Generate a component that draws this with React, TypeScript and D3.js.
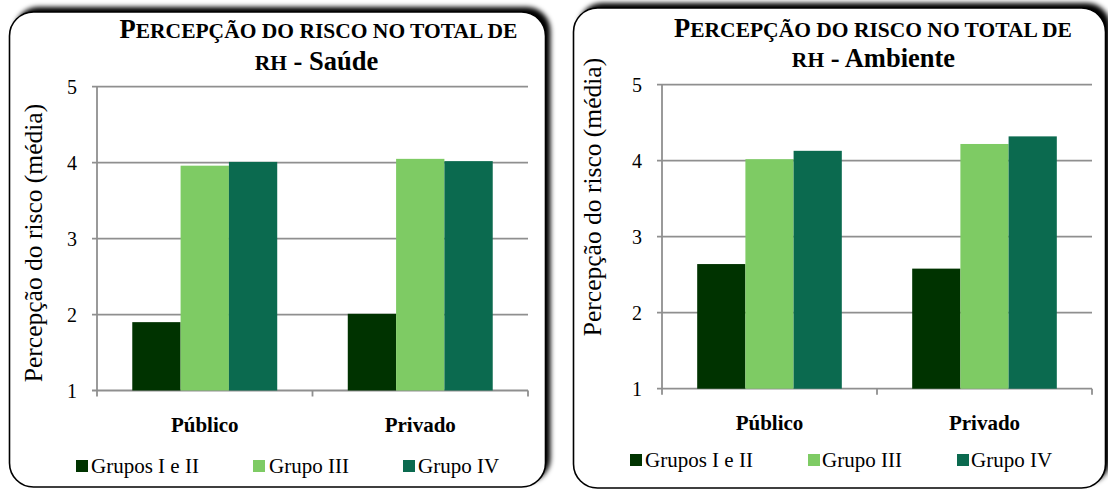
import React from "react";
import * as d3 from "d3";

const categories = ["Público", "Privado"];
const seriesNames = ["Grupos I e II", "Grupo III", "Grupo IV"];
const seriesColors = ["#003300", "#7ecb64", "#0b6a4f"];
const yTicks = [1, 2, 3, 4, 5];

const saudeGruposIeII = [1.9, 2.01];
const saudeGrupoIII = [3.96, 4.05];
const saudeGrupoIV = [4.01, 4.02];

const ambienteGruposIeII = [2.64, 2.58];
const ambienteGrupoIII = [4.02, 4.22];
const ambienteGrupoIV = [4.13, 4.32];

const axisTitle = "Percepção do risco (média)";
const titleLine1Big = "P";
const titleLine1Small = "ERCEPÇÃO DO RISCO NO TOTAL DE";
const titleLine2Small = "RH";

const FONT = "'Liberation Serif', 'Times New Roman', serif";
const GRID = "#8f8f8f";

type Geo = {
  box: [number, number, number, number];
  plot: [number, number, number, number]; // left, top, right, bottom
  titleCx: number;
  title2Cx: number;
  titleY1: number;
  titleY2: number;
  axisTitleX: number;
  axisTitleCy: number;
  catY: number;
  legendSq: number[];
  legendTx: number[];
  legendY: number;
};

function Panel({ geo, subtitle, values }: { geo: Geo; subtitle: string; values: number[][] }) {
  const [pl, pt, pr, pb] = geo.plot;
  const y = d3.scaleLinear().domain([1, 5]).range([pb, pt]);
  const x0 = d3.scaleBand<string>().domain(categories).range([pl, pr]).paddingInner(0).paddingOuter(0);
  const x1 = d3.scaleBand<string>().domain(seriesNames).range([0, x0.bandwidth()]).paddingInner(0).paddingOuter(0.73);
  const [bx, by, bw, bh] = geo.box;
  return (
    <g>
      <rect x={bx} y={by} width={bw} height={bh} rx={24} ry={24} fill="#000" filter="url(#shadow)" />
      <rect x={bx} y={by} width={bw} height={bh} rx={24} ry={24} fill="#fff" stroke="#000" strokeWidth={1.6} />
      <text x={geo.titleCx} y={geo.titleY1} textAnchor="middle" fontFamily={FONT} fontWeight="bold">
        <tspan fontSize={26.5}>{titleLine1Big}</tspan>
        <tspan fontSize={21.5}>{titleLine1Small}</tspan>
      </text>
      <text x={geo.title2Cx} y={geo.titleY2} textAnchor="middle" fontFamily={FONT} fontWeight="bold">
        <tspan fontSize={21.5}>{titleLine2Small}</tspan>
        <tspan fontSize={26.5}>{" - " + subtitle}</tspan>
      </text>
      {yTicks.map((t) => (
        <g key={t}>
          <line x1={pl - 5} x2={pr} y1={y(t)} y2={y(t)} stroke={GRID} strokeWidth={1.8} />
          <text x={pl - 20} y={y(t)} dy="0.35em" textAnchor="end" fontFamily={FONT} fontSize={20}>
            {t}
          </text>
        </g>
      ))}
      <line x1={pl} x2={pl} y1={pt} y2={pb} stroke={GRID} strokeWidth={1.8} />
      {[pl, x0(categories[1]) as number, pr].map((tx, i) => (
        <line key={i} x1={tx} x2={tx} y1={pb} y2={pb + 6} stroke={GRID} strokeWidth={1.8} />
      ))}
      {categories.map((c, ci) => (
        <g key={c}>
          {seriesNames.map((s, si) => {
            const v = values[si][ci];
            const bxp = (x0(c) as number) + (x1(s) as number);
            return (
              <rect key={s} x={bxp} y={y(v)} width={x1.bandwidth()} height={y(1) - y(v)} fill={seriesColors[si]} />
            );
          })}
          <text x={(x0(c) as number) + x0.bandwidth() / 2} y={geo.catY} textAnchor="middle" fontFamily={FONT} fontWeight="bold" fontSize={21}>
            {c}
          </text>
        </g>
      ))}
      <text
        transform={`translate(${geo.axisTitleX},${geo.axisTitleCy}) rotate(-90)`}
        textAnchor="middle"
        fontFamily={FONT}
        fontSize={25.5}
      >
        {axisTitle}
      </text>
      {seriesNames.map((s, si) => (
        <g key={s}>
          <rect x={geo.legendSq[si]} y={geo.legendY - 13} width={12} height={12} fill={seriesColors[si]} />
          <text x={geo.legendTx[si]} y={geo.legendY} fontFamily={FONT} fontSize={21}>
            {s}
          </text>
        </g>
      ))}
    </g>
  );
}

const leftGeo: Geo = {
  box: [9.5, 12, 536, 475],
  plot: [97, 86.7, 528, 390.5],
  titleCx: 318.5,
  title2Cx: 316.5,
  titleY1: 38,
  titleY2: 70,
  axisTitleX: 42,
  axisTitleCy: 243,
  catY: 432,
  legendSq: [76, 253, 403],
  legendTx: [91, 269, 418],
  legendY: 473,
};

const rightGeo: Geo = {
  box: [573.5, 8, 532, 480],
  plot: [662, 84.7, 1092, 388.7],
  titleCx: 873,
  title2Cx: 873.5,
  titleY1: 37,
  titleY2: 67,
  axisTitleX: 601,
  axisTitleCy: 197,
  catY: 430,
  legendSq: [630, 808, 957],
  legendTx: [645, 822, 971],
  legendY: 467,
};

export default function App() {
  return (
    <div style={{ position: "fixed", left: 0, top: 0, width: 1108, height: 490, background: "#fff" }}>
      <svg width={1108} height={490} style={{ display: "block" }}>
        <defs>
          <filter id="shadow" x="-5%" y="-8%" width="112%" height="116%">
            <feOffset in="SourceAlpha" dx={5} dy={-5} result="off" />
            <feGaussianBlur in="off" stdDeviation={2.5} />
          </filter>
        </defs>
        <rect width={1108} height={490} fill="#fff" />
        <Panel geo={leftGeo} subtitle="Saúde" values={[saudeGruposIeII, saudeGrupoIII, saudeGrupoIV]} />
        <Panel geo={rightGeo} subtitle="Ambiente" values={[ambienteGruposIeII, ambienteGrupoIII, ambienteGrupoIV]} />
      </svg>
    </div>
  );
}
